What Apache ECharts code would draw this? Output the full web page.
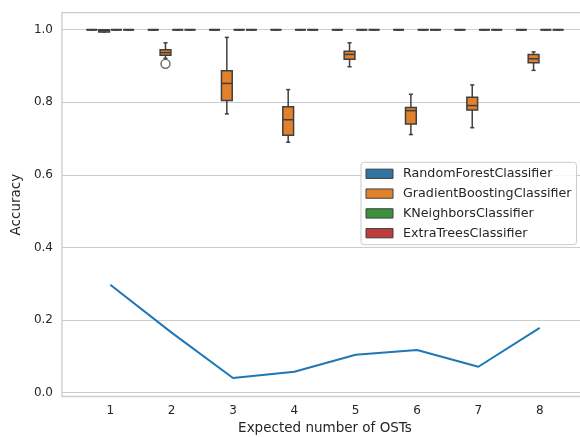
<!DOCTYPE html>
<html>
<head>
<meta charset="utf-8">
<script src="https://cdn.jsdelivr.net/npm/echarts@6/dist/echarts.min.js"></script>
<style>
html,body{margin:0;padding:0;background:#fff;}
#chart{width:580px;height:437px;}
</style>
</head>
<body>
<div id="chart"></div>
<script>
// ---- data ----
const categories = [1, 2, 3, 4, 5, 6, 7, 8];
const classifiers = ['RandomForestClassifier', 'GradientBoostingClassifier', 'KNeighborsClassifier', 'ExtraTreesClassifier'];
// [min, Q1, median, Q3, max] per category
const randomForestStats = [
  [1, 1, 1, 1, 1], [1, 1, 1, 1, 1], [1, 1, 1, 1, 1], [1, 1, 1, 1, 1],
  [1, 1, 1, 1, 1], [1, 1, 1, 1, 1], [1, 1, 1, 1, 1], [1, 1, 1, 1, 1]
];
const gradientBoostingStats = [
  [0.994, 0.994, 0.998, 1.0, 1.0],
  [0.921, 0.930, 0.937, 0.945, 0.964],
  [0.768, 0.805, 0.852, 0.887, 0.979],
  [0.690, 0.709, 0.752, 0.788, 0.835],
  [0.898, 0.919, 0.932, 0.941, 0.964],
  [0.711, 0.740, 0.777, 0.786, 0.822],
  [0.730, 0.779, 0.791, 0.814, 0.848],
  [0.888, 0.909, 0.920, 0.932, 0.939]
];
const kNeighborsStats = [
  [1, 1, 1, 1, 1], [1, 1, 1, 1, 1], [1, 1, 1, 1, 1], [1, 1, 1, 1, 1],
  [1, 1, 1, 1, 1], [1, 1, 1, 1, 1], [1, 1, 1, 1, 1], [1, 1, 1, 1, 1]
];
const extraTreesStats = [
  [1, 1, 1, 1, 1], [1, 1, 1, 1, 1], [1, 1, 1, 1, 1], [1, 1, 1, 1, 1],
  [1, 1, 1, 1, 1], [1, 1, 1, 1, 1], [1, 1, 1, 1, 1], [1, 1, 1, 1, 1]
];
// outliers: [category, value]
const gradientBoostingOutliers = [[2, 0.906]];
// line values per category
const lineValues = [0.297, 0.165, 0.040, 0.057, 0.104, 0.117, 0.071, 0.178];
const yTickLabels = ['0.0', '0.2', '0.4', '0.6', '0.8', '1.0'];

// ---- styling ----
const colors = ['#3274a1', '#e1812c', '#3a923a', '#c03d3e'];
const edgeColor = '#3f3f3f';
const textColor = '#262626';
const gridColor = '#cccccc';
const FONT = 'DejaVu Sans';
const hueWidth = 0.2;

const allStats = [randomForestStats, gradientBoostingStats, kNeighborsStats, extraTreesStats];

function renderBox(params, api) {
  const x = api.value(0);
  const vMin = api.value(1), q1 = api.value(2), med = api.value(3), q3 = api.value(4), vMax = api.value(5);
  const halfW = api.size([hueWidth, 0])[0] / 2;
  const capHalf = halfW * 0.33;
  const pMin = api.coord([x, vMin]);
  const pQ1 = api.coord([x, q1]);
  const pMed = api.coord([x, med]);
  const pQ3 = api.coord([x, q3]);
  const pMax = api.coord([x, vMax]);
  const cx = pMed[0];
  const lw = 1.5;
  const lineStyle = {stroke: edgeColor, lineWidth: lw, fill: null};
  const flat = Math.abs(pQ1[1] - pQ3[1]) < 0.5;
  const children = [
    {type: 'line', shape: {x1: cx, y1: pQ1[1], x2: cx, y2: pMin[1]}, style: lineStyle},
    {type: 'line', shape: {x1: cx, y1: pQ3[1], x2: cx, y2: pMax[1]}, style: lineStyle},
    {type: 'line', shape: {x1: cx - capHalf, y1: pMin[1], x2: cx + capHalf, y2: pMin[1]}, style: lineStyle},
    {type: 'line', shape: {x1: cx - capHalf, y1: pMax[1], x2: cx + capHalf, y2: pMax[1]}, style: lineStyle},
    {type: 'rect', shape: {x: cx - halfW + 0.75, y: pQ3[1], width: 2 * halfW - 1.5, height: pQ1[1] - pQ3[1]},
      style: {fill: api.visual('color'), stroke: edgeColor, lineWidth: flat ? 2.2 : lw}},
    {type: 'line', shape: {x1: cx - halfW + 0.75, y1: pMed[1], x2: cx + halfW - 0.75, y2: pMed[1]}, style: lineStyle}
  ];
  return {type: 'group', children: children};
}

const series = classifiers.map(function (name, h) {
  const offset = (h - 1.5) * hueWidth;
  return {
    name: name,
    type: 'custom',
    renderItem: renderBox,
    itemStyle: {color: colors[h], borderColor: edgeColor, borderWidth: 1},
    encode: {x: 0, y: [1, 2, 3, 4, 5]},
    data: categories.map(function (c, i) {
      return [c + offset].concat(allStats[h][i]);
    }),
    z: 3
  };
});

series.push({
  name: 'outliers',
  type: 'scatter',
  symbol: 'circle',
  symbolSize: 9,
  itemStyle: {color: '#ffffff', borderColor: edgeColor, borderWidth: 1.4},
  data: gradientBoostingOutliers.map(function (d) { return [d[0] + (1 - 1.5) * hueWidth, d[1]]; }),
  z: 4
});

series.push({
  name: 'line',
  type: 'line',
  symbol: 'none',
  lineStyle: {color: '#1f77b4', width: 2},
  data: categories.map(function (c, i) { return [c, lineValues[i]]; }),
  z: 5
});

const chart = echarts.init(document.getElementById('chart'), null, {renderer: 'canvas'});
chart.setOption({
  animation: false,
  backgroundColor: '#ffffff',
  textStyle: {fontFamily: FONT, color: textColor},
  grid: {
    left: 62, top: 12.7, width: 526, height: 383.8,
    outerBoundsMode: 'none',
    containLabel: false,
    show: true, borderColor: gridColor, borderWidth: 1.3, backgroundColor: 'transparent'
  },
  legend: {
    data: classifiers,
    orient: 'vertical',
    left: 361, top: 162.3,
    padding: [4, 5, 4, 4.5],
    itemWidth: 27, itemHeight: 9.3,
    itemGap: 4.8,
    icon: 'rect',
    backgroundColor: 'rgba(255,255,255,0.85)',
    borderColor: gridColor, borderWidth: 1, borderRadius: 3,
    itemStyle: {borderColor: edgeColor, borderWidth: 1},
    textStyle: {fontFamily: FONT, fontSize: 12.7, color: textColor, lineHeight: 15, padding: [0, 0, 0, 5]}
  },
  xAxis: {
    type: 'value',
    min: 0.213, max: 8.787,
    minInterval: 1, maxInterval: 1,
    name: 'Expected number of OSTs',
    nameLocation: 'middle',
    nameGap: 24,
    nameTextStyle: {fontFamily: FONT, fontSize: 13.5, color: textColor},
    axisLine: {show: false},
    axisTick: {show: false},
    splitLine: {show: false},
    axisLabel: {
      fontFamily: FONT, fontSize: 12, color: textColor, margin: 8,
      formatter: function (v) {
        const r = Math.round(v);
        return (Math.abs(v - r) < 1e-6 && categories.indexOf(r) >= 0) ? String(r) : '';
      }
    }
  },
  yAxis: {
    type: 'value',
    min: -0.011, max: 1.047,
    minInterval: 0.2, maxInterval: 0.2,
    name: 'Accuracy',
    nameLocation: 'middle',
    nameGap: 36,
    nameTextStyle: {fontFamily: FONT, fontSize: 13.5, color: textColor},
    axisLine: {show: false},
    axisTick: {show: false},
    splitLine: {show: true, lineStyle: {color: gridColor, width: 1.1}},
    axisLabel: {
      fontFamily: FONT, fontSize: 12, color: textColor, margin: 9,
      formatter: function (v) {
        const idx = Math.round(v / 0.2);
        return (Math.abs(v - idx * 0.2) < 1e-6 && idx >= 0 && idx < yTickLabels.length) ? yTickLabels[idx] : '';
      }
    }
  },
  series: series
});
</script>
</body>
</html>
